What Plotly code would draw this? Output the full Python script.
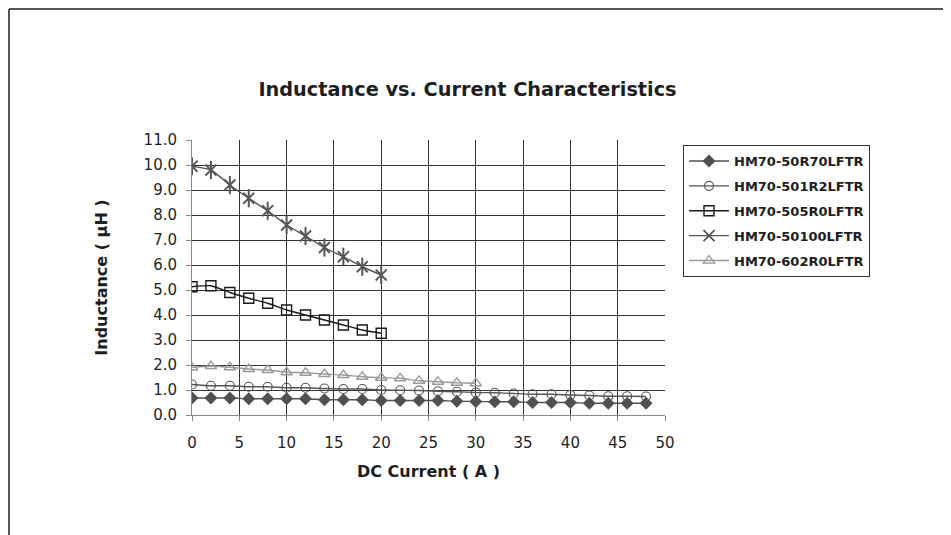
import plotly.graph_objects as go

# ---- data ----
x_48 = [0, 2, 4, 6, 8, 10, 12, 14, 16, 18, 20, 22, 24, 26, 28, 30, 32, 34, 36, 38, 40, 42, 44, 46, 48]
x_30 = [0, 2, 4, 6, 8, 10, 12, 14, 16, 18, 20, 22, 24, 26, 28, 30]
x_20 = [0, 2, 4, 6, 8, 10, 12, 14, 16, 18, 20]

hm50r70 = [0.68, 0.68, 0.68, 0.65, 0.65, 0.65, 0.65, 0.61, 0.61, 0.61, 0.58, 0.58, 0.58,
           0.58, 0.55, 0.54, 0.53, 0.53, 0.50, 0.50, 0.50, 0.47, 0.47, 0.47, 0.47]
hm501r2 = [1.22, 1.17, 1.17, 1.13, 1.13, 1.09, 1.09, 1.06, 1.04, 1.04, 1.00, 0.99, 0.98,
           0.95, 0.93, 0.90, 0.89, 0.86, 0.83, 0.83, 0.80, 0.78, 0.75, 0.75, 0.74]
hm505r0 = [5.13, 5.17, 4.90, 4.67, 4.47, 4.20, 4.00, 3.80, 3.60, 3.40, 3.27]
hm50100 = [9.95, 9.80, 9.20, 8.67, 8.17, 7.60, 7.16, 6.70, 6.33, 5.93, 5.60]
hm602r0 = [1.90, 1.96, 1.91, 1.84, 1.80, 1.71, 1.69, 1.64, 1.60, 1.53, 1.49, 1.47, 1.37,
           1.33, 1.29, 1.27]

names = ["HM70-50R70LFTR", "HM70-501R2LFTR", "HM70-505R0LFTR", "HM70-50100LFTR", "HM70-602R0LFTR"]
x_ticks = [0, 5, 10, 15, 20, 25, 30, 35, 40, 45, 50]
y_ticks = [0, 1, 2, 3, 4, 5, 6, 7, 8, 9, 10, 11]

FONT = "DejaVu Sans, Liberation Sans, Arial, sans-serif"
TXT = "#1e1e1e"

# figure is 943x527 because the page adds an 8px body margin
W, H = 943, 527
PL, PR, PT, PB = 184, 657, 132, 407   # plot area in figure pixels
PW, PH = PR - PL, PB - PT

series = [
    (x_48, hm50r70, names[0], "#505050", dict(symbol="diamond", size=10, color="#505050",
                                              line=dict(width=0))),
    (x_48, hm501r2, names[1], "#555555", dict(symbol="circle-open", size=9, color="#555555",
                                              line=dict(width=1.2, color="#555555"))),
    (x_20, hm505r0, names[2], "#1a1a1a", dict(symbol="square-open", size=10, color="#1a1a1a",
                                              line=dict(width=1.4, color="#1a1a1a"))),
    (x_20, hm50100, names[3], "#555555", dict(symbol="x-thin-open", size=11, color="#555555",
                                              line=dict(width=1.8, color="#555555"))),
    (x_30, hm602r0, names[4], "#999999", dict(symbol="triangle-up-open", size=10, color="#999999",
                                              line=dict(width=1.3, color="#999999"))),
]

fig = go.Figure()
for i, (xs, ys, nm, col, mk) in enumerate(series):
    fig.add_trace(go.Scatter(
        x=xs, y=ys, name=nm, mode="lines+markers",
        line=dict(color=col, width=1.4, shape="spline", smoothing=0.5),
        marker=mk, legendgroup=f"g{i}",
    ))
    if nm == names[3]:
        # vertical stroke that turns the x marker into a six-point star
        fig.add_trace(go.Scatter(
            x=xs, y=ys, mode="markers", showlegend=False, hoverinfo="skip",
            marker=dict(symbol="line-ns", size=13, color=col,
                        line=dict(width=2, color=col)),
            legendgroup=f"g{i}",
        ))

fig.update_layout(
    width=W, height=H,
    margin=dict(l=PL, r=W - PR, t=PT, b=H - PB, pad=0),
    paper_bgcolor="white", plot_bgcolor="white",
    font=dict(family=FONT, color=TXT),
    title=dict(text="<b>Inductance vs. Current Characteristics</b>",
               font=dict(family=FONT, size=19.3, color=TXT),
               x=459.5 / W, xref="container", xanchor="center",
               y=1 - 81 / H, yref="container", yanchor="middle"),
    xaxis=dict(range=[0, 50], tickvals=x_ticks, ticktext=[str(v) for v in x_ticks],
               showgrid=True, gridcolor="#333333", gridwidth=1,
               showline=True, linecolor="#888888", linewidth=1,
               ticks="outside", ticklen=5, tickcolor="#888888",
               tickfont=dict(family=FONT, size=15, color=TXT),
               ticklabelstandoff=9, zeroline=False,
               title=dict(text="<b>DC Current ( A )</b>", standoff=14,
                          font=dict(family=FONT, size=16, color=TXT))),
    yaxis=dict(range=[0, 11], tickvals=y_ticks, ticktext=[f"{v:.1f}" for v in y_ticks],
               showgrid=True, gridcolor="#333333", gridwidth=1,
               showline=True, linecolor="#888888", linewidth=1,
               ticks="outside", ticklen=5, tickcolor="#888888",
               tickfont=dict(family=FONT, size=15, color=TXT),
               ticklabelstandoff=6, zeroline=False,
               title=dict(text="<b>Inductance ( µH )</b>", standoff=31,
                          font=dict(family=FONT, size=16, color=TXT))),
    legend=dict(x=(675 - PL) / PW, y=(PB - 137) / PH, xanchor="left", yanchor="top",
                bordercolor="#333333", borderwidth=1, bgcolor="white",
                font=dict(family=FONT, size=13, color=TXT, weight="bold"),
                traceorder="grouped", tracegroupgap=5, itemwidth=40),
    showlegend=True,
)

# outer frame lines (top and left) of the reference picture
fig.add_shape(type="line", xref="paper", yref="paper",
              x0=(1 - PL) / PW, x1=(W + 5 - PL) / PW,
              y0=(PB - 1) / PH, y1=(PB - 1) / PH,
              line=dict(color="#555555", width=2))
fig.add_shape(type="line", xref="paper", yref="paper",
              x0=(1 - PL) / PW, x1=(1 - PL) / PW,
              y0=(PB - 1) / PH, y1=(PB - H - 5) / PH,
              line=dict(color="#555555", width=2))

fig.write_html("out.html")
